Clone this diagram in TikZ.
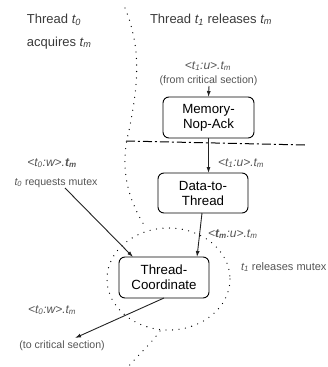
\documentclass[tikz,border=0pt]{standalone}
\usepackage{fontspec}
\setmainfont{Liberation Sans}
\usetikzlibrary{arrows.meta,calc}
\definecolor{headc}{HTML}{3A3A3A}
\definecolor{labc}{HTML}{555555}
\definecolor{linec}{HTML}{222222}
\newcommand\tsb[2]{#1\textsubscript{#2}}
\begin{document}
\begin{tikzpicture}[x=1pt,y=-1pt,
  every node/.style={inner sep=0pt,outer sep=0pt},
  boxnode/.style={draw=black,line width=0.9pt,rounded corners=6pt,minimum width=90pt,minimum height=41pt,align=center,font=\fontsize{13.3}{15}\selectfont},
  headtext/.style={text=headc,font=\fontsize{13}{15}\selectfont,anchor=base west},
  labtext/.style={text=labc,font=\fontsize{12}{14}\selectfont\itshape},
  smalltext/.style={text=labc,font=\fontsize{10.6}{12}\selectfont},
  arr/.style={draw=linec,line width=0.9pt,-{Latex[length=6pt,width=4pt]}},
  dotline/.style={draw=black,line width=1.3pt,line cap=round,dash pattern=on 0pt off 6.5pt},
  dashdot/.style={draw=black,line width=1pt,dash pattern=on 9pt off 3pt on 2pt off 3pt}]
\useasboundingbox (0,0) rectangle (327,367);

% headings
\node[headtext] (h0) at (27,23) {Thread \textit{\tsb{t}{0}}};
\node[headtext] (h0b) at (27,46) {acquires \textit{\tsb{t}{m}}};
\node[headtext] (h1) at (150,23) {Thread \textit{\tsb{t}{1}} releases \textit{\tsb{t}{m}}};

% separators
\draw[dotline] (125,8) .. controls (140,45) and (140,80) .. (128,135)
  .. controls (120,170) and (128,200) .. (146,228);
\draw[dotline] (168.5,279) ellipse [x radius=61.5, y radius=51];
\draw[dotline] (160,331) .. controls (150,345) and (138,355) .. (128,367);
\coordinate (ddA) at (126,141);
\coordinate (ddB) at (305,145);
\draw[dashdot] (ddA) -- (ddB);

% boxes
\node[boxnode,minimum width=91pt] (mem) at (208.5,117.5) {Memory-\\Nop-Ack};
\node[boxnode,minimum height=40pt] (dt) at (203,193) {Data-to-\\Thread};
\node[boxnode] (tc) at (164,277.5) {Thread-\\Coordinate};

% labels
\node[labtext,anchor=base] (l1) at (208,69) {<\tsb{t}{1}:u>.\tsb{t}{m}};
\node[smalltext,anchor=base] (l1b) at (208.5,83) {(from critical section)};
\coordinate (l1s) at (209,86);
\node[labtext,anchor=base west] (l2) at (218,166) {<\tsb{t}{1}:u>.\tsb{t}{m}};
\node[labtext,anchor=base west] (l3) at (208,237) {<\textbf{\tsb{t}{m}}:u>.\tsb{t}{m}};
\node[smalltext,anchor=base west,font=\fontsize{11}{13}\selectfont] (l4) at (241,270) {\textit{\tsb{t}{1}} releases mutex};
\node[labtext,anchor=base] (l5) at (52,166) {<\tsb{t}{0}:w>.\textbf{\tsb{t}{m}}};
\node[smalltext,anchor=base] (l5b) at (56,185) {\textit{\tsb{t}{0}} requests mutex};
\coordinate (l5s) at (65,188);
\node[labtext,anchor=base west] (l6) at (28,313) {<\tsb{t}{0}:w>.\tsb{t}{m}};
\node[smalltext,anchor=base] (l6b) at (62,348) {(to critical section)};
\coordinate (l6e) at (75,338);

% arrows
\draw[arr] (l1s) -- (mem.north);
\draw[arr] (mem.south) -- (mem.south |- dt.north);
\draw[arr] ($(dt.south)+(-1,0)$) -- ($(tc.north east)+(-12,0)$);
\draw[arr] (l5s) -- ($(tc.north west)+(14,0)$);
\draw[arr] (tc.south) -- (l6e);
\end{tikzpicture}
\end{document}
